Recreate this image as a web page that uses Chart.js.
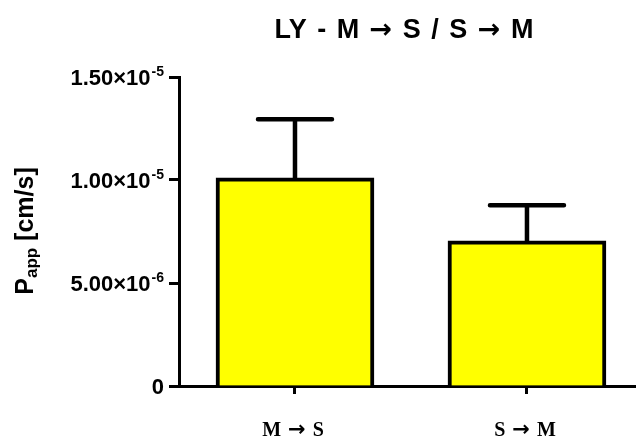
<!DOCTYPE html>
<html><head><meta charset="utf-8">
<script src="https://cdn.jsdelivr.net/npm/chart.js@4/dist/chart.umd.min.js"></script>
<style>html,body{margin:0;padding:0;background:#fff;overflow:hidden}</style>
</head><body>
<canvas id="c" width="636" height="438"></canvas>
<script>
const categories = ['M \u2192 S', 'S \u2192 M'];
const means = [1.01e-5, 7.05e-6];
const errors = [2.85e-6, 1.73e-6];
const yTickValues = [0, 5e-6, 1e-5, 1.5e-5];
const yTickMantissa = ['0', '5.00\u00d710', '1.00\u00d710', '1.50\u00d710'];
const yTickExponent = ['', '-6', '-5', '-5'];
const titleText = 'LY - M \u2192 S / S \u2192 M';
const yTitleMain = 'P';
const yTitleSub = 'app';
const yTitleRest = ' [cm/s]';

const SANS = "'Liberation Sans', Arial, sans-serif";
const SERIF = "'Liberation Serif', 'Times New Roman', serif";
const ARROWF = "'DejaVu Sans', sans-serif";

// draw a string where the arrow glyph uses a heavier font, with widened spaces
function drawMixed(ctx, str, cx, baseY, textFont, arrowFont, extraSpace) {
  const segs = [];
  for (const ch of str) {
    const last = segs[segs.length - 1];
    const kind = ch === '\u2192' ? 'a' : (ch === ' ' ? 's' : 't');
    if (kind === 't' && last && last.k === 't') { last.t += ch; continue; }
    segs.push({ t: ch, k: kind });
  }
  let total = 0;
  segs.forEach(s => {
    s.f = s.k === 'a' ? arrowFont : textFont;
    ctx.font = s.f;
    s.w = ctx.measureText(s.t).width + (s.k === 's' ? extraSpace : 0);
    total += s.w;
  });
  let x = cx - total / 2;
  ctx.textAlign = 'left';
  ctx.textBaseline = 'alphabetic';
  segs.forEach(s => { ctx.font = s.f; if (s.k !== 's') ctx.fillText(s.t, x, baseY); x += s.w; });
  return total;
}

const errorBars = {
  id: 'errorBars',
  afterDatasetsDraw(chart) {
    const ctx = chart.ctx, xs = chart.scales.x, ys = chart.scales.y;
    ctx.save();
    ctx.strokeStyle = '#000';
    ctx.lineWidth = 4.5;
    ctx.lineCap = 'round';
    means.forEach((m, i) => {
      const x = xs.getPixelForValue(i);
      const y0 = ys.getPixelForValue(m);
      const y1 = ys.getPixelForValue(m + errors[i]);
      ctx.beginPath();
      ctx.moveTo(x, y0); ctx.lineTo(x, y1);
      ctx.moveTo(x - 37, y1); ctx.lineTo(x + 37, y1);
      ctx.stroke();
    });
    ctx.restore();
  }
};

const axisText = {
  id: 'axisText',
  afterDraw(chart) {
    const ctx = chart.ctx, ys = chart.scales.y, xs = chart.scales.x;
    ctx.save();
    ctx.fillStyle = '#000';
    // title
    drawMixed(ctx, titleText, 404, 38, 'bold 27px ' + SANS, 'bold 27px ' + ARROWF, 3);
    // x category labels
    categories.forEach((c, i) => {
      drawMixed(ctx, c, xs.getPixelForValue(i) - 2, 436, 'bold 20px ' + SERIF, 'bold 21px ' + ARROWF, 2);
    });
    // y tick labels with exponent
    const right = 164;
    yTickValues.forEach((v, i) => {
      const y = ys.getPixelForValue(v);
      ctx.font = 'bold 14px ' + SANS;
      const ew = yTickExponent[i] ? ctx.measureText(yTickExponent[i]).width : 0;
      if (yTickExponent[i]) {
        ctx.textAlign = 'right';
        ctx.textBaseline = 'alphabetic';
        ctx.fillText(yTickExponent[i], right, y - 1);
      }
      ctx.font = 'bold 22px ' + SANS;
      ctx.textAlign = 'right';
      ctx.textBaseline = 'alphabetic';
      ctx.fillText(yTickMantissa[i], right - ew - (ew ? 1 : 0), y + 8);
    });
    // y title
    ctx.translate(33, 231);
    ctx.rotate(-Math.PI / 2);
    ctx.font = 'bold 25px ' + SANS;
    const w1 = ctx.measureText(yTitleMain).width;
    const w3 = ctx.measureText(yTitleRest).width;
    ctx.font = 'bold 17px ' + SANS;
    const w2 = ctx.measureText(yTitleSub).width;
    let x = -(w1 + w2 + w3) / 2;
    ctx.textAlign = 'left';
    ctx.textBaseline = 'alphabetic';
    ctx.font = 'bold 25px ' + SANS;
    ctx.fillText(yTitleMain, x, 0);
    x += w1;
    ctx.font = 'bold 17px ' + SANS;
    ctx.fillText(yTitleSub, x, 4);
    x += w2;
    ctx.font = 'bold 25px ' + SANS;
    ctx.fillText(yTitleRest, x, 0);
    ctx.restore();
  }
};

new Chart(document.getElementById('c'), {
  type: 'bar',
  data: {
    datasets: [{
      data: categories.map((c, i) => ({ x: i, y: means[i] })),
      backgroundColor: '#ffff00',
      borderColor: '#000',
      borderWidth: 4,
      borderSkipped: 'start',
      barThickness: 158
    }]
  },
  options: {
    responsive: false,
    animation: false,
    devicePixelRatio: 1,
    layout: { padding: { top: 77 } },
    plugins: {
      legend: { display: false },
      tooltip: { enabled: false },
      title: { display: false, text: titleText }
    },
    scales: {
      x: {
        type: 'linear',
        offset: false,
        min: -0.5,
        max: 1.47,
        z: 1,
        afterBuildTicks(s) { s.ticks = categories.map((c, i) => ({ value: i })); },
        afterFit(s) { s.height = 52; },
        ticks: { display: false, callback: (v) => categories[v] },
        grid: { drawOnChartArea: false, offset: false, tickLength: 8, tickWidth: 3, tickColor: '#000' },
        border: { display: true, width: 3, color: '#000' }
      },
      y: {
        type: 'linear',
        min: 0,
        max: 1.5e-5,
        z: 1,
        afterBuildTicks(s) { s.ticks = yTickValues.map(v => ({ value: v })); },
        afterFit(s) { s.width = 179; },
        ticks: { display: false },
        grid: { drawOnChartArea: false, tickLength: 10, tickWidth: 3, tickColor: '#000' },
        border: { display: true, width: 3, color: '#000' }
      }
    }
  },
  plugins: [errorBars, axisText]
});
</script>
</body></html>
